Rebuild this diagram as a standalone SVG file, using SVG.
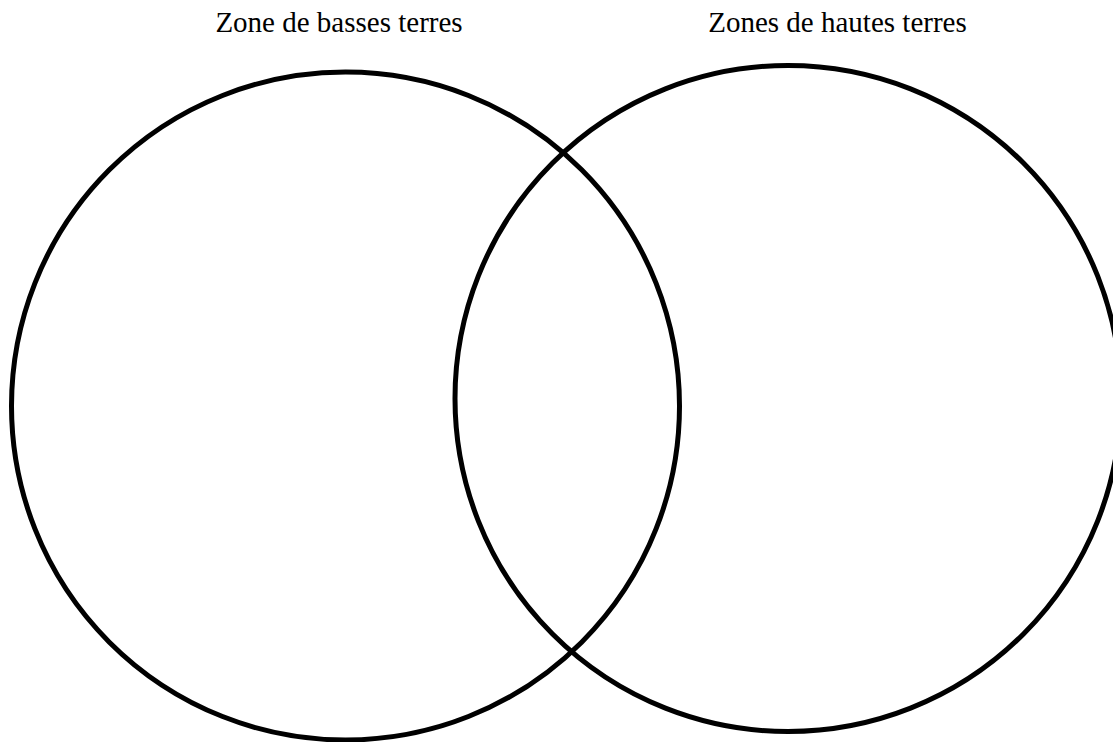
<svg xmlns="http://www.w3.org/2000/svg" width="1113" height="742" viewBox="0 0 1113 742">
<style>
.c{fill:none;stroke:#000;stroke-width:5}
.t{font-family:"Liberation Serif","Times New Roman",serif;font-size:29px;fill:#000;text-anchor:middle}
</style>
<rect width="1113" height="742" fill="#fff"/>
<g id="lowlands">
<circle class="c" cx="345.5" cy="406" r="334"/>
<text class="t" x="339" y="32">Zone de basses terres</text>
</g>
<g id="highlands">
<circle class="c" cx="788" cy="398.5" r="333"/>
<text class="t" x="837.5" y="32">Zones de hautes terres</text>
</g>
<g id="connectors"></g>
</svg>
